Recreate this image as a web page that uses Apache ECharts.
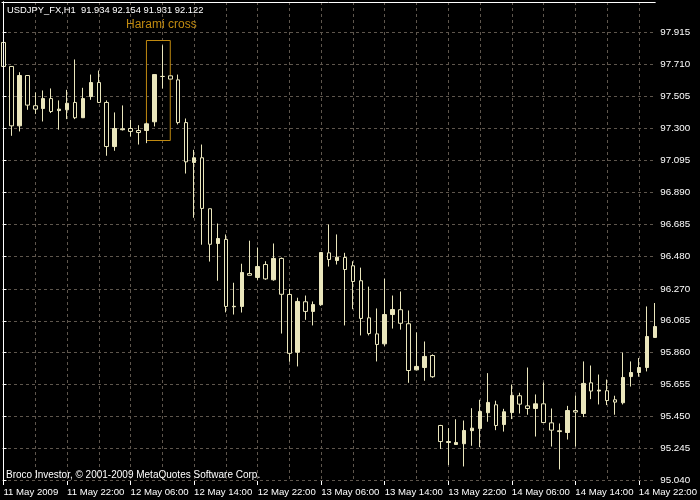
<!DOCTYPE html>
<html>
<head>
<meta charset="utf-8">
<script src="https://cdn.jsdelivr.net/npm/echarts@6/dist/echarts.min.js"></script>
<style>html,body{margin:0;padding:0;background:#000;}#c{width:700px;height:500px;}</style>
</head>
<body>
<div id="c"></div>
<script>
// H1 bars, index 0 = 11 May 2009 14:00
const opens = [97.851,97.697,97.316,97.639,97.445,97.427,97.491,97.414,97.419,97.466,
  97.368,97.504,97.594,97.466,97.183,97.291,97.299,97.286,97.286,97.342,
  97.633,97.637,97.611,97.337,97.081,97.111,96.784,96.561,96.587,96.155,
  96.157,96.368,96.343,96.426,96.328,96.465,96.234,95.863,96.187,96.125,
  96.168,96.501,96.452,96.471,96.418,96.322,96.084,95.981,95.917,96.105,
  96.136,96.046,95.750,95.765,95.842,95.393,95.284,95.271,95.276,95.360,
  95.374,95.475,95.526,95.399,95.476,95.584,95.519,95.502,95.532,95.410,
  95.354,95.348,95.489,95.470,95.667,95.614,95.616,95.558,95.539,95.707,
  95.733,95.765,95.958];
const closes = [97.697,97.316,97.639,97.449,97.423,97.491,97.408,97.423,97.461,97.368,
  97.491,97.594,97.466,97.183,97.299,97.297,97.280,97.273,97.329,97.645,
  97.633,97.616,97.337,97.085,97.111,96.786,96.556,96.593,96.157,96.158,
  96.375,96.357,96.413,96.334,96.465,96.235,95.856,96.189,96.125,96.169,
  96.503,96.458,96.473,96.394,96.317,96.080,95.983,95.913,96.105,96.137,
  96.049,95.746,95.772,95.836,95.706,95.290,95.290,95.284,95.361,95.376,
  95.483,95.541,95.393,95.481,95.586,95.530,95.502,95.532,95.412,95.363,
  95.359,95.489,95.479,95.663,95.614,95.620,95.553,95.543,95.701,95.733,
  95.765,95.964,96.028];
const lows = [97.611,97.252,97.280,97.419,97.393,97.344,97.398,97.291,97.359,97.359,
  97.366,97.483,97.464,97.124,97.156,97.286,97.248,97.196,97.205,97.312,
  97.556,97.616,97.325,97.010,96.726,96.553,96.445,96.322,96.119,96.105,
  96.118,96.357,96.328,96.328,96.322,95.983,95.802,95.772,96.071,96.035,
  96.161,96.413,96.426,96.035,96.139,95.971,95.971,95.804,95.904,96.015,
  96.008,95.667,95.747,95.680,95.699,95.242,95.139,95.270,95.130,95.263,
  95.254,95.417,95.363,95.354,95.434,95.470,95.462,95.322,95.410,95.258,
  95.111,95.303,95.258,95.447,95.562,95.528,95.524,95.462,95.528,95.643,
  95.706,95.740,95.956];
const highs = [97.949,97.697,97.660,97.641,97.530,97.543,97.556,97.479,97.547,97.742,
  97.560,97.645,97.671,97.479,97.402,97.447,97.355,97.320,97.337,97.645,
  97.833,97.637,97.645,97.363,97.162,97.196,96.784,96.689,96.619,96.309,
  96.431,96.579,96.535,96.447,96.561,96.471,96.270,96.213,96.227,96.189,
  96.505,96.683,96.619,96.501,96.447,96.406,96.284,96.144,96.335,96.227,
  96.253,96.131,95.990,95.932,95.849,95.397,95.376,95.433,95.425,95.504,
  95.558,95.729,95.552,95.500,95.656,95.603,95.765,95.592,95.669,95.502,
  95.406,95.519,95.586,95.804,95.778,95.720,95.688,95.584,95.861,95.804,
  95.826,96.157,96.179];
const xTickLabels = ["11 May 2009","11 May 22:00","12 May 06:00","12 May 14:00","12 May 22:00",
  "13 May 06:00","13 May 14:00","13 May 22:00","14 May 06:00","14 May 14:00","14 May 22:00"];
const xTickBars = [0,8,16,24,32,40,48,56,64,72,80];
const xGridBars = [4,8,12,16,20,24,28,32,36,40,44,48,52,56,60,64,68,72,76,80];
const yTickLabels = ["95.040","95.245","95.450","95.655","95.860","96.065","96.270","96.480",
  "96.685","96.890","97.095","97.300","97.505","97.710","97.915"];
const patternName = "Harami cross";
const patternBars = [18, 21];
const patternPrices = [97.2219, 97.8636];
const headerText = "USDJPY_FX,H1  91.934 92.154 91.931 92.122";
const footerText = "Broco Investor, \u00a9 2001-2009 MetaQuotes Software Corp.";

const FONT = "Liberation Sans, Arial, sans-serif";
const CANDLE = "#EAE6BC";
const GRID = "#5E564D";
const yVals = yTickLabels.map(Number);
const data = opens.map((o, i) => [i, o, closes[i], lows[i], highs[i]]);

const chart = echarts.init(document.getElementById('c'), null, {renderer: 'canvas'});
chart.setOption({
  animation: false,
  backgroundColor: '#000',
  title: [
    {text: headerText, left: 7, top: 6, padding: 0,
     textStyle: {color: '#fff', fontSize: 9.4, fontWeight: 'normal', fontFamily: FONT}},
    {text: footerText, left: 6, top: 470, padding: 0,
     textStyle: {color: '#fff', fontSize: 10, fontWeight: 'normal', fontFamily: FONT}}
  ],
  grid: {left: 2, right: 40, top: 2, bottom: 19, containLabel: false},
  xAxis: [
    {type: 'value', position: 'bottom', min: -0.1875, max: 82.0625,
     axisLine: {show: false},
     axisTick: {show: true, customValues: xTickBars, length: 4, lineStyle: {color: '#fff'}},
     axisLabel: {show: true, customValues: xTickBars, align: 'left', margin: 6,
       color: '#fff', fontSize: 9.6, fontFamily: FONT,
       formatter: v => xTickLabels[xTickBars.indexOf(Math.round(v))] || ''},
     splitLine: {show: false}},
    {type: 'value', position: 'top', min: -0.1875, max: 82.0625,
     axisLine: {show: true, lineStyle: {color: '#fff', width: 1}},
     axisTick: {show: false, customValues: xGridBars},
     axisLabel: {show: false},
     splitLine: {show: true, lineStyle: {color: GRID, width: 1, type: [3, 3]}}}
  ],
  yAxis: [
    {type: 'value', position: 'right', min: 95.0368, max: 98.1107,
     axisLine: {show: true, lineStyle: {color: '#fff', width: 1}},
     axisTick: {show: true, customValues: yVals, length: 3, lineStyle: {color: '#fff'}},
     axisLabel: {show: true, customValues: yVals, margin: 5, color: '#fff', fontSize: 9.8,
       fontFamily: FONT, formatter: v => v.toFixed(3)},
     splitLine: {show: true, lineStyle: {color: GRID, width: 1, type: [3, 3]}}},
    {type: 'value', position: 'left', min: 95.0368, max: 98.1107, z: 5,
     axisLine: {show: true, lineStyle: {color: '#fff', width: 1}},
     axisTick: {show: false}, axisLabel: {show: false}, splitLine: {show: false}}
  ],
  series: [{
    type: 'candlestick',
    xAxisIndex: 0, yAxisIndex: 0,
    barWidth: 4,
    clip: true,
    data: data,
    itemStyle: {color: CANDLE, color0: '#000', borderColor: CANDLE, borderColor0: CANDLE,
      borderColorDoji: CANDLE, borderWidth: 1},
    emphasis: {disabled: true},
    markArea: {
      silent: true,
      itemStyle: {color: 'rgba(0,0,0,0)', borderColor: '#C08A10', borderWidth: 1},
      label: {show: true, position: 'top', distance: 9, offset: [3, 0], color: '#C08A10',
        fontSize: 12, fontFamily: FONT},
      data: [[{name: patternName, coord: [patternBars[0], patternPrices[1]]},
              {coord: [patternBars[1], patternPrices[0]]}]]
    }
  }]
});
</script>
</body>
</html>
